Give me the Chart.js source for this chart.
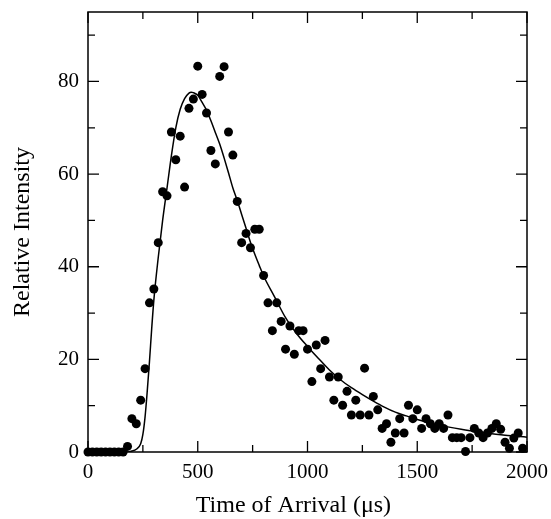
<!DOCTYPE html>
<html><head><meta charset="utf-8">
<script src="https://cdn.jsdelivr.net/npm/chart.js@4/dist/chart.umd.min.js"></script>
<style>html,body{margin:0;padding:0;background:#fff}#wrap{width:551px;height:519px}</style>
</head><body><div id="wrap"><canvas id="c" width="551" height="519"></canvas></div>
<script>
// Measured data points (time of arrival in µs, relative intensity)
const timeValues = [
  0,20,40,60,80,100,120,140,160,180,
  200,220,240,260,280,300,320,340,360,380,
  400,420,440,460,480,500,520,540,560,580,
  600,620,640,660,680,700,720,740,760,780,
  800,820,840,860,880,900,920,940,960,980,
  1000,1020,1040,1060,1080,1100,1120,1140,1160,1180,
  1200,1220,1240,1260,1280,1300,1320,1340,1360,1380,
  1400,1420,1440,1460,1480,1500,1520,1540,1560,1580,
  1600,1620,1640,1660,1680,1700,1720,1740,1760,1780,
  1800,1820,1840,1860,1880,1900,1920,1940,1960,1980
];
const intensityValues = [
  0,0,0,0,0,0,0,0,0,1.2,
  7.2,6.1,11.2,18,32.2,35.2,45.2,56.2,55.3,69.1,
  63.1,68.2,57.2,74.2,76.2,83.3,77.2,73.2,65.1,62.2,
  81.1,83.2,69.1,64.1,54.1,45.2,47.2,44.1,48.1,48.1,
  38.1,32.2,26.2,32.2,28.2,22.2,27.2,21.1,26.2,26.2,
  22.2,15.2,23.1,18.0,24.1,16.2,11.2,16.2,10.1,13.1,
  8.0,11.2,8.0,18.1,8.0,12.0,9.1,5.1,6.1,2.1,
  4.1,7.2,4.1,10.1,7.2,9.1,5.1,7.2,6.1,5.1,
  6.1,5.1,8.0,3.1,3.1,3.1,0.1,3.1,5.1,4.1,
  3.1,4.1,5.1,6.1,4.9,2.1,0.8,3.0,4.1,0.8
];
// Fitted curve
const fitTime = [0,100,180,200,220,240,250,260,270,280,290,300,320,340,360,380,400,420,440,460,470,480,500,520,540,560,580,600,620,640,660,680,700,720,740,760,780,800,850,900,950,1000,1050,1100,1150,1200,1250,1300,1350,1400,1450,1500,1600,1700,1800,1900,2000];
const fitIntensity = [0,0,0,0.2,0.6,1.8,3.8,7.6,13.2,19.5,26.5,32.8,42,50,57,64,70,74,76.3,77.5,77.7,77.6,77,75.5,73.8,71.5,69,66.5,63.5,60.3,57,54.3,51.3,48.3,45.3,42.7,40.3,38,33.5,29,25.6,22.8,20.2,17.7,15.6,13.9,12.4,11,9.7,8.6,7.8,7,5.8,4.9,4.2,3.6,3.2];

const xTickLabels = [0,500,1000,1500,2000];
const yTickLabels = [0,20,40,60,80];
const xMinorTicks = [250,750,1250,1750];
const yMinorTicks = [10,30,50,70,90];
const xTitle = 'Time of Arrival (μs)';
const yTitle = 'Relative Intensity';

const FONT = '"Liberation Serif", "Times New Roman", serif';

const framePlugin = {
  id: 'frame',
  afterDatasetsDraw(chart) {
    const {ctx, chartArea: a, scales: {x, y}} = chart;
    ctx.save();
    ctx.strokeStyle = '#000';
    ctx.lineWidth = 1.5;
    ctx.strokeRect(a.left, a.top, a.right - a.left, a.bottom - a.top);
    ctx.lineWidth = 1.3;
    ctx.beginPath();
    const vt = (v, len) => {
      const px = x.getPixelForValue(v);
      ctx.moveTo(px, a.bottom); ctx.lineTo(px, a.bottom - len);
      ctx.moveTo(px, a.top); ctx.lineTo(px, a.top + len);
    };
    const ht = (v, len) => {
      const py = y.getPixelForValue(v);
      ctx.moveTo(a.left, py); ctx.lineTo(a.left + len, py);
      ctx.moveTo(a.right, py); ctx.lineTo(a.right - len, py);
    };
    xTickLabels.forEach(v => vt(v, 11));
    xMinorTicks.forEach(v => vt(v, 7));
    yTickLabels.forEach(v => ht(v, 11));
    yMinorTicks.forEach(v => ht(v, 7));
    ctx.stroke();
    // x-axis title, placed under the axis as in the original
    ctx.fillStyle = '#000';
    ctx.font = '24px ' + FONT;
    ctx.textAlign = 'center';
    ctx.textBaseline = 'alphabetic';
    ctx.fillText(xTitle, x.getPixelForValue(936), 512);
    ctx.restore();
  }
};

new Chart(document.getElementById('c'), {
  type: 'scatter',
  data: {
    datasets: [
      {
        type: 'line',
        data: fitTime.map((t, i) => ({x: t, y: fitIntensity[i]})),
        borderColor: '#000',
        borderWidth: 1.5,
        pointRadius: 0,
        fill: false,
        cubicInterpolationMode: 'monotone',
        order: 2
      },
      {
        data: timeValues.map((t, i) => ({x: t, y: intensityValues[i]})),
        backgroundColor: '#000',
        borderWidth: 0,
        pointRadius: 4.5,
        showLine: false,
        clip: false,
        order: 1
      }
    ]
  },
  options: {
    responsive: false,
    animation: false,
    devicePixelRatio: 1,
    layout: {padding: {top: 12, right: 24, left: 0, bottom: 0}},
    plugins: {legend: {display: false}, tooltip: {enabled: false}},
    scales: {
      x: {
        type: 'linear', min: 0, max: 2000,
        afterBuildTicks: s => { s.ticks = xTickLabels.map(v => ({value: v})); },
        afterFit: s => { s.height = 67; s.paddingLeft = 0; s.paddingRight = 0; },
        grid: {display: false, drawTicks: false},
        border: {display: false},
        ticks: {font: {family: FONT, size: 21}, color: '#000', padding: 8, maxRotation: 0, autoSkip: false,
                callback: v => String(v)},
        title: {display: false}
      },
      y: {
        type: 'linear', min: 0, max: 95,
        afterBuildTicks: s => { s.ticks = yTickLabels.map(v => ({value: v})); },
        afterFit: s => { s.width = 88; s.paddingTop = 0; s.paddingBottom = 0; },
        grid: {display: false, drawTicks: false},
        border: {display: false},
        ticks: {font: {family: FONT, size: 21}, color: '#000', padding: 9, callback: v => String(v)},
        title: {display: true, text: yTitle, font: {family: FONT, size: 24}, color: '#000', padding: {top: 8, bottom: 0}}
      }
    }
  },
  plugins: [framePlugin]
});
</script>
</body></html>
